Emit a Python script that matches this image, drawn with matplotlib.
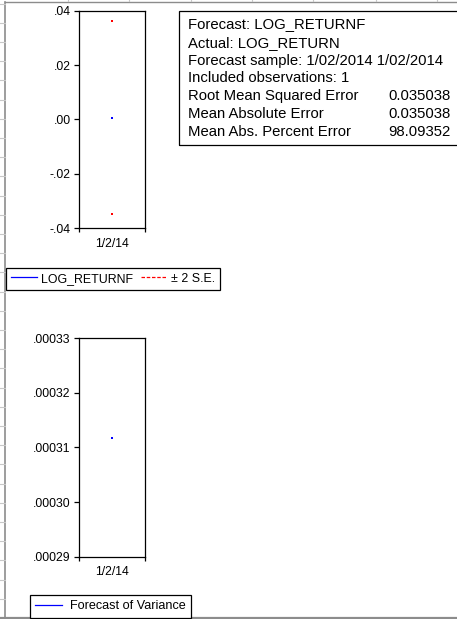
import matplotlib
matplotlib.use("Agg")
import matplotlib.pyplot as plt
from matplotlib.lines import Line2D
from matplotlib.patches import Rectangle

plt.rcParams['font.family'] = ['Liberation Sans', 'DejaVu Sans']

# ---- data ----
dates = ["1/2/14"]
log_returnf = [0.0007]
upper_2se = [0.0361]
lower_2se = [-0.0347]
var_forecast = [0.0003118]

yticks1 = [-0.04, -0.02, 0.00, 0.02, 0.04]
ylabels1 = ["-.04", "-.02", ".00", ".02", ".04"]
yticks2 = [0.00029, 0.00030, 0.00031, 0.00032, 0.00033]
ylabels2 = [".00029", ".00030", ".00031", ".00032", ".00033"]

stats_labels = ["Forecast: LOG_RETURNF", "Actual: LOG_RETURN",
                "Forecast sample: 1/02/2014 1/02/2014", "Included observations: 1",
                "Root Mean Squared Error", "Mean Absolute Error",
                "Mean Abs. Percent Error"]
stats_values = ["", "", "", "", "0.035038", "0.035038", "98.09352"]

W, H = 457, 619
fig = plt.figure(figsize=(W / 100, H / 100), dpi=100)


def fx(px):
    return px / W


def fy(py):
    return 1 - py / H


# ---- screenshot frame (spreadsheet background) ----
grey = "#8c8c8c"
light = "#c8c8c8"
fig.add_artist(Line2D([fx(5), fx(5)], [fy(1.5), fy(617)], color=grey, lw=1.2))
fig.add_artist(Line2D([fx(5), fx(457)], [fy(1.5), fy(1.5)], color=grey, lw=1.0))
fig.add_artist(Line2D([fx(0), fx(457)], [fy(617.5), fy(617.5)], color=grey, lw=1.6))
k = 0
while 3.5 + 19.2 * k < 617:
    yy = 3.5 + 19.2 * k
    fig.add_artist(Line2D([fx(0), fx(4.5)], [fy(yy), fy(yy)], color=light, lw=0.8))
    k += 1
for xx in [67.5, 129, 190.5, 252, 313, 375.5, 437]:
    fig.add_artist(Line2D([fx(xx), fx(xx)], [fy(0), fy(1.2)], color=light, lw=0.8))


def style_axes(ax, yt, yl, ylim):
    x = list(range(len(dates)))
    ax.set_xlim(-0.5, len(dates) - 0.5)
    ax.set_ylim(*ylim)
    ax.set_yticks(yt)
    ax.set_yticklabels(yl)
    ax.set_xticks(x)
    ax.set_xticklabels(dates)
    ax.set_xticks([-0.5, len(dates) - 0.5], minor=True)
    ax.tick_params(axis='x', which='major', length=0, pad=7, labelsize=8.8)
    ax.tick_params(axis='x', which='minor', length=3, width=0.9, direction='out')
    ax.tick_params(axis='y', which='major', length=3.6, width=0.9, direction='out',
                   pad=2.6, labelsize=8.8)
    for s in ax.spines.values():
        s.set_linewidth(0.9)
        s.set_color("black")


# ---- top panel ----
ax1 = fig.add_axes([fx(79.3), fy(228.3), fx(144.7) - fx(79.3), (228.3 - 10.7) / H])
x = list(range(len(dates)))
ax1.plot(x, log_returnf, color="#0000ff", lw=0.8, marker='s', ms=1.7, mew=0)
ax1.plot(x, upper_2se, color="#ff0000", lw=0.8, ls='--', marker='s', ms=1.7, mew=0)
ax1.plot(x, lower_2se, color="#ff0000", lw=0.8, ls='--', marker='s', ms=1.7, mew=0)
style_axes(ax1, yticks1, ylabels1, (-0.04, 0.04))

# ---- bottom panel ----
ax2 = fig.add_axes([fx(79.3), fy(556.7), fx(144.7) - fx(79.3), (556.7 - 338.3) / H])
ax2.plot(x, var_forecast, color="#0000ff", lw=0.8, marker='s', ms=1.7, mew=0)
style_axes(ax2, yticks2, ylabels2, (0.00029, 0.00033))

# ---- legends ----
h1 = [Line2D([], [], color="#0000ff", lw=0.9),
      Line2D([], [], color="#ff0000", lw=0.9, ls=(0, (2.8, 1.4)))]
leg1 = fig.legend(h1, ["LOG_RETURNF", "\u00b1 2 S.E."], loc='upper left',
                  bbox_to_anchor=(fx(5.7), fy(267.7)), ncol=2, fontsize=8.9,
                  frameon=True, fancybox=False, edgecolor="black", framealpha=1,
                  borderaxespad=0, borderpad=0.4, handlelength=2.1,
                  handletextpad=0.36, columnspacing=0.62)
leg1.get_frame().set_linewidth(0.9)

h2 = [Line2D([], [], color="#0000ff", lw=0.9)]
leg2 = fig.legend(h2, ["Forecast of Variance"], loc='upper left',
                  bbox_to_anchor=(fx(30.3), fy(595.4)), ncol=1, fontsize=9.1,
                  frameon=True, fancybox=False, edgecolor="black", framealpha=1,
                  borderaxespad=0, borderpad=0.4, handlelength=2.1,
                  handletextpad=0.65)
leg2.get_frame().set_linewidth(0.9)

# ---- stats box ----
box = Rectangle((fx(179.3), fy(145.3)), fx(470) - fx(179.3), (145.3 - 10.7) / H,
                transform=fig.transFigure, fill=False, edgecolor="black", lw=0.9,
                clip_on=False)
fig.add_artist(box)
line_y = [24.5, 42.6, 60.8, 78.3, 96.0, 113.7, 131.5]
for lab, val, yy in zip(stats_labels, stats_values, line_y):
    fig.text(fx(188.3), fy(yy), lab, fontsize=10.7, va='center', ha='left')
    if val:
        fig.text(fx(450.7), fy(yy), val, fontsize=10.7, va='center', ha='right')

fig.savefig("out.png", dpi=100)
